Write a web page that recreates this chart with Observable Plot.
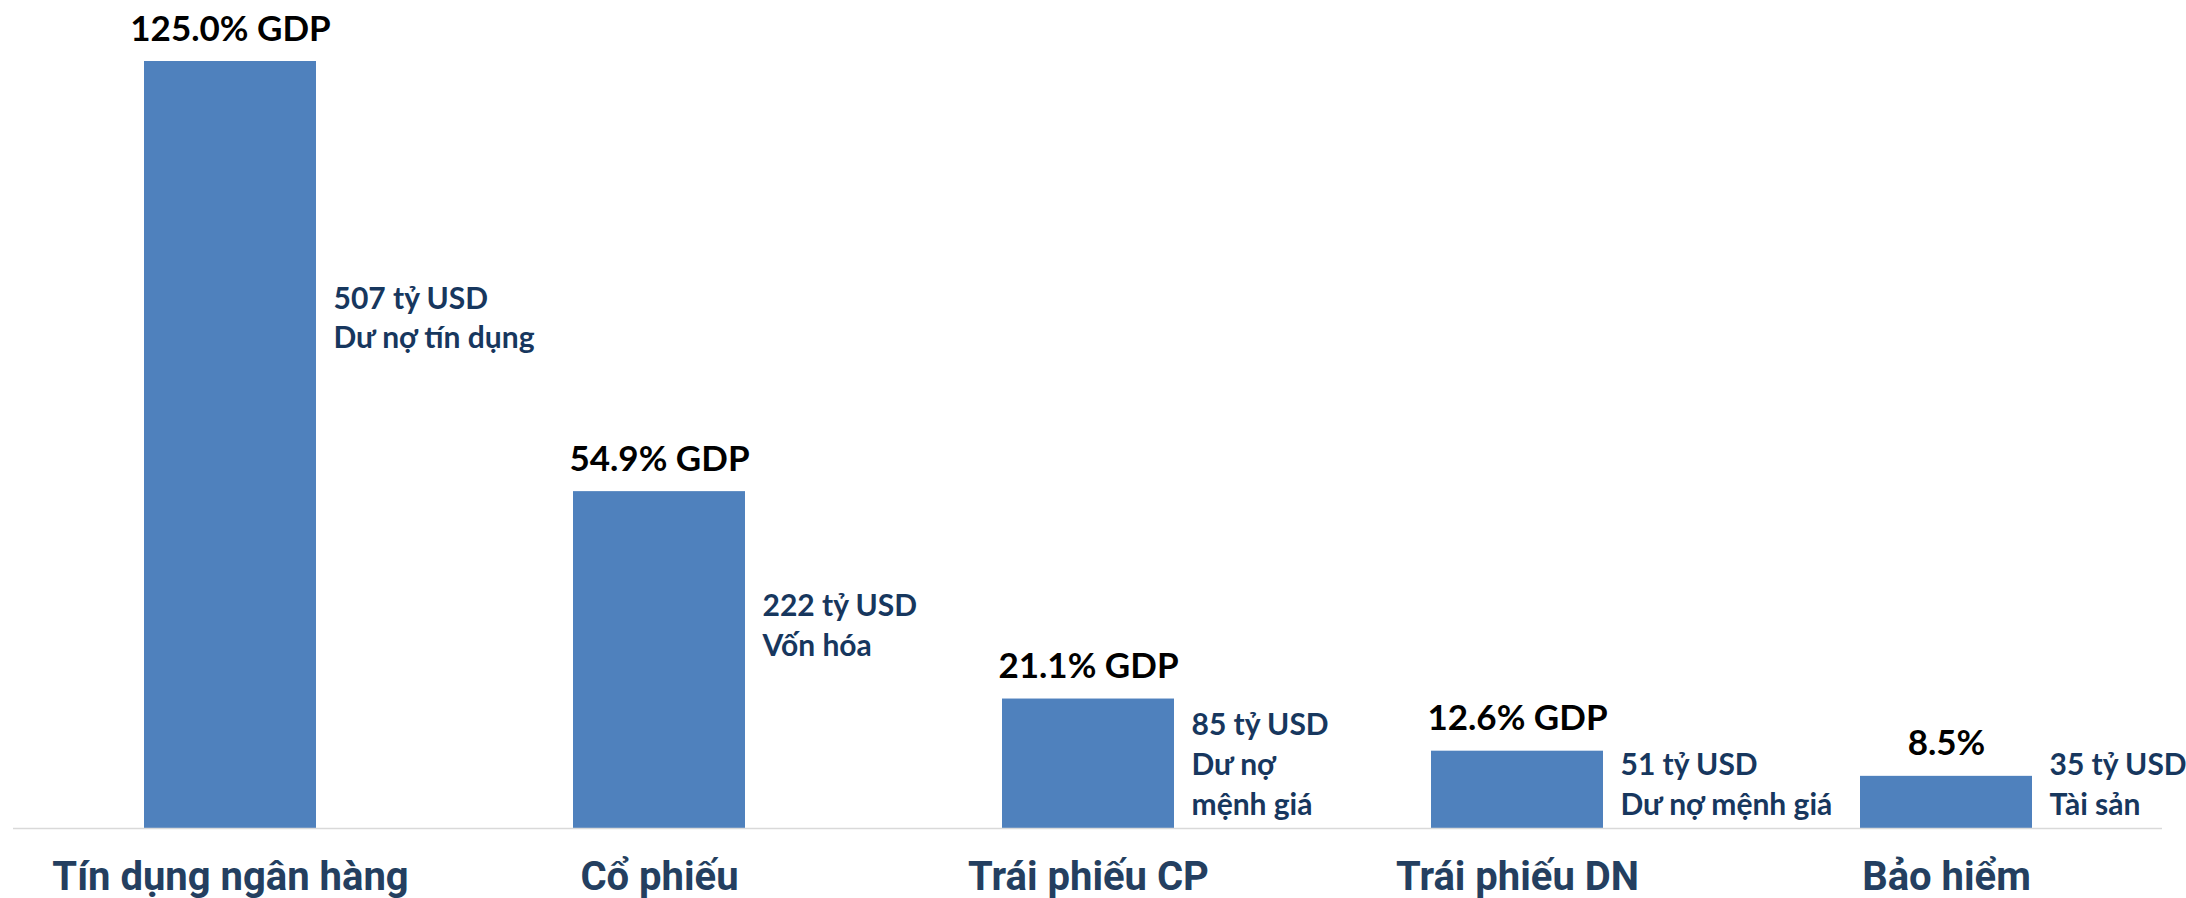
<!DOCTYPE html>
<html>
<head>
<meta charset="utf-8">
<script src="https://cdn.jsdelivr.net/npm/d3@7"></script>
<script src="https://cdn.jsdelivr.net/npm/@observablehq/plot@0.6"></script>
<style>
  html, body { margin: 0; padding: 0; background: #ffffff; }
  #chart { width: 2186px; height: 898px; }
</style>
</head>
<body>
<div id="chart"></div>
<script>
// ---- data ----
const categories = ["Tín dụng ngân hàng", "Cổ phiếu", "Trái phiếu CP", "Trái phiếu DN", "Bảo hiểm"];
const gdpShare   = [125.0, 54.9, 21.1, 12.6, 8.5];            // % of GDP
const gdpLabels  = ["125.0% GDP", "54.9% GDP", "21.1% GDP", "12.6% GDP", "8.5%"];
const usdLabels  = ["507 tỷ USD", "222 tỷ USD", "85 tỷ USD", "51 tỷ USD", "35 tỷ USD"];
const measureLabels = ["Dư nợ tín dụng", "Vốn hóa", "Dư nợ\nmệnh giá", "Dư nợ mệnh giá", "Tài sản"];

const rows = categories.map((c, i) => ({
  category: c,
  value: gdpShare[i],
  top: gdpLabels[i],
  side: usdLabels[i] + "\n" + measureLabels[i]
}));

const valueFont = "Lato, 'Open Sans', 'Noto Sans', sans-serif";
const catFont = "Roboto, 'Liberation Sans', sans-serif";

const chart = Plot.plot({
  width: 2186,
  height: 898,
  marginTop: 61,
  marginBottom: 70,
  marginLeft: 13,
  marginRight: 24,
  style: { background: "#ffffff", overflow: "visible" },
  x: { domain: categories, paddingInner: 0.6, paddingOuter: 0.3, label: null },
  y: { domain: [0, 125], axis: null },
  marks: [
    Plot.barY(rows, { x: "category", y: "value", fill: "#4F81BD" }),
    Plot.ruleY([0], { stroke: "#D9D9D9", strokeWidth: 1.5 }),
    Plot.axisX({
      tickSize: 0, tickPadding: 33, fontSize: 40, fontWeight: 700,
      fontFamily: catFont, color: "#243F60", label: null
    }),
    // % of GDP labels above the bars
    Plot.text(rows, {
      x: "category", y: "value", text: "top", dy: -21, lineAnchor: "bottom",
      fontSize: 35, fontWeight: 700, fontFamily: valueFont, fill: "#000000"
    }),
    // USD labels beside the bars: taller bars -> upper part of bar
    Plot.text(rows.filter(d => d.value > 30), {
      x: "category", y: d => d.value * 0.715, text: "side", dx: 103,
      textAnchor: "start", lineAnchor: "top", lineHeight: 1.333,
      fontSize: 30, fontWeight: 700, fontFamily: valueFont, fill: "#17375E"
    }),
    // short bars -> resting on the baseline
    Plot.text(rows.filter(d => d.value <= 30), {
      x: "category", y: 0, text: "side", dx: 103, dy: -14,
      textAnchor: "start", lineAnchor: "bottom", lineHeight: 1.333,
      fontSize: 30, fontWeight: 700, fontFamily: valueFont, fill: "#17375E"
    })
  ]
});

document.getElementById("chart").appendChild(chart);
</script>
</body>
</html>
